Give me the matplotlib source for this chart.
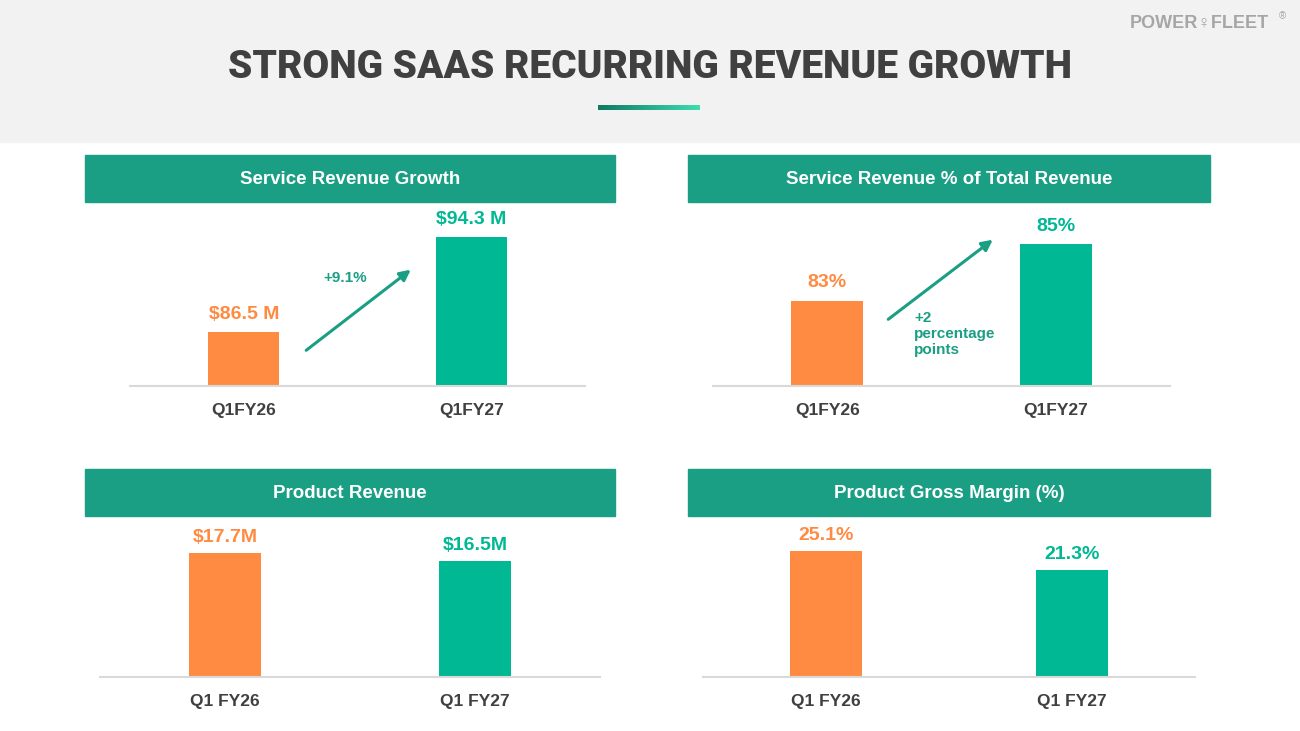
import matplotlib
matplotlib.use("Agg")
from matplotlib import pyplot as plt
import matplotlib.patches as patches
import numpy as np

plt.rcParams['font.family'] = ['Liberation Sans', 'DejaVu Sans']

# chart data
panel_titles = ["Service Revenue Growth", "Service Revenue % of Total Revenue",
                "Product Revenue", "Product Gross Margin (%)"]
top_cats = ["Q1FY26", "Q1FY27"]
bottom_cats = ["Q1 FY26", "Q1 FY27"]
service_rev = [86.5, 94.3]
service_share = [83, 85]
product_rev = [17.7, 16.5]
product_margin = [25.1, 21.3]
service_rev_labels = ["$86.5 M", "$94.3 M"]
service_share_labels = ["83%", "85%"]
product_rev_labels = ["$17.7M", "$16.5M"]
product_margin_labels = ["25.1%", "21.3%"]

ORANGE = "#FF8B42"
GREEN = "#00B893"
TEAL = "#1A9E84"
DARK = "#404040"

W, H = 1300, 731
fig = plt.figure(figsize=(13, 7.31), dpi=100)
fig.patch.set_facecolor("white")

def fx(x):
    return x / W

def fy(y):
    return 1 - y / H

# header band
fig.patches.append(patches.Rectangle((0, fy(142)), 1, 142 / H, transform=fig.transFigure,
                                     color="#F2F2F2", zorder=-5))
fig.text(0.5, fy(68), "STRONG SAAS RECURRING REVENUE GROWTH", ha="center", va="center",
         fontsize=28, fontweight="black", color=DARK, family="Roboto")
# gradient underline
gax = fig.add_axes([fx(598), fy(110), fx(102), 5 / H], zorder=5)
gax.imshow(np.linspace(0, 1, 100).reshape(1, -1), aspect="auto",
           cmap=matplotlib.colors.LinearSegmentedColormap.from_list("g", ["#0E7A62", "#3DDDB0"]))
gax.axis("off")
fig.text(fx(1130), fy(23), "POWER♀FLEET", ha="left", va="center", fontsize=13,
         fontweight="bold", color="#A6A6A6", family=['Liberation Sans', 'DejaVu Sans'])
fig.text(fx(1279), fy(16), "®", ha="left", va="center", fontsize=7, color="#A6A6A6")

# panel header boxes
boxes = [(85, 155, 530), (688, 155, 522), (85, 469, 530), (688, 469, 522)]
for (x, y, w), t in zip(boxes, panel_titles):
    fig.patches.append(patches.Rectangle((fx(x), fy(y + 47)), w / W, 47 / H,
                                         transform=fig.transFigure, color=TEAL, zorder=-4))
    fig.text(fx(x + w / 2), fy(y + 24), t, ha="center", va="center", fontsize=13.5,
             fontweight="bold", color="white")

def panel(x0, x1, base, top, ylim, cats, vals, labels, width, off):
    ax = fig.add_axes([fx(x0), fy(base), (x1 - x0) / W, (base - top) / H])
    ax.bar([0, 1], vals, width=width, color=[ORANGE, GREEN])
    ax.set_xlim(-0.5, 1.5)
    ax.set_ylim(*ylim)
    for i, (v, l) in enumerate(zip(vals, labels)):
        ax.annotate(l, (i, v), xytext=(0, off), textcoords="offset pixels", ha="center",
                    va="center", fontsize=14, fontweight="bold",
                    color=ORANGE if i == 0 else GREEN)
    for s in ["top", "left", "right"]:
        ax.spines[s].set_visible(False)
    ax.spines["bottom"].set_color("#D9D9D9")
    ax.spines["bottom"].set_linewidth(1.5)
    ax.set_yticks([])
    ax.set_xticks([0, 1])
    ax.set_xticklabels(cats, fontsize=12.5, fontweight="bold", color=DARK)
    ax.tick_params(axis="x", length=0, pad=12)
    ax.patch.set_alpha(0)
    return ax

panel(130, 585, 386, 206, (82.07, 96.85), top_cats, service_rev, service_rev_labels, 0.314, 18)
panel(713, 1170, 386, 206, (80, 86.34), top_cats, service_share, service_share_labels, 0.314, 18)
panel(100, 600, 677, 525, (0, 21.7), bottom_cats, product_rev, product_rev_labels, 0.287, 16)
panel(703, 1195, 677, 525, (0, 30.3), bottom_cats, product_margin, product_margin_labels, 0.293, 16)

# growth arrows
for (x0, y0, x1, y1) in [(304, 352, 413, 268), (886, 321, 995, 238)]:
    fig.add_artist(patches.FancyArrowPatch((fx(x0), fy(y0)), (fx(x1), fy(y1)),
                                           transform=fig.transFigure, arrowstyle="-|>",
                                           mutation_scale=16, lw=2.2, color=TEAL))
fig.text(fx(345), fy(278), "+9.1%", ha="center", va="center", fontsize=11,
         fontweight="bold", color=TEAL)
fig.text(fx(914), fy(334), "+2\npercentage\npoints", ha="left", va="center", fontsize=11,
         fontweight="bold", color=TEAL, linespacing=1.2)

fig.savefig("out.png", dpi=100)
